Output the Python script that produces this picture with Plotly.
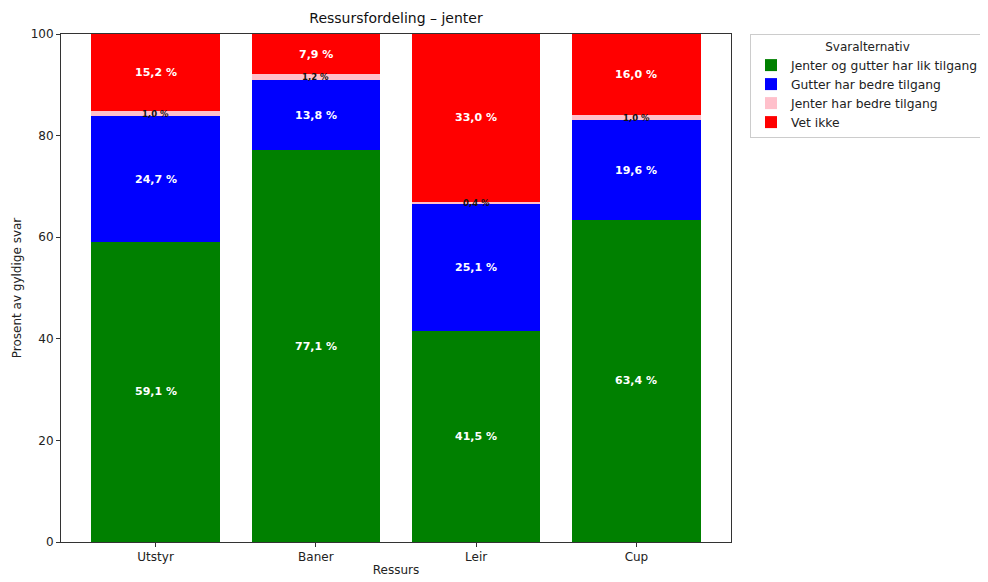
import plotly.graph_objects as go

categories = ["Utstyr", "Baner", "Leir", "Cup"]
series_names = ["Jenter og gutter har lik tilgang", "Gutter har bedre tilgang",
                "Jenter har bedre tilgang", "Vet ikke"]
lik = [59.1, 77.1, 41.5, 63.4]
gutter = [24.7, 13.8, 25.1, 19.6]
jenter = [1.0, 1.2, 0.4, 1.0]
vet_ikke = [15.2, 7.9, 33.0, 16.0]
colors = ["green", "blue", "pink", "red"]
y_ticks = [0, 20, 40, 60, 80, 100]

series = [lik, gutter, jenter, vet_ikke]
font = "DejaVu Sans"

# page body has an 8px margin; compensate so the plot lands where the reference has it
OFF = 8
L, R, T, B = 61 - OFF, 731 - OFF, 34 - OFF, 542 - OFF
W, H = 988, 582

fig = go.Figure()
for name, vals, col in zip(series_names, series, colors):
    fig.add_trace(go.Bar(x=categories, y=vals, name=name, marker_color=col,
                         marker_line_width=0, width=0.8, hoverinfo="skip"))

annotations = []
for i, cat in enumerate(categories):
    base = 0.0
    for vals, col in zip(series, colors):
        v = vals[i]
        mid = base + v / 2
        small = v < 3
        annotations.append(dict(
            x=cat, y=mid, xref="x", yref="y", showarrow=False,
            text=f"{v:.1f} %".replace(".", ","),
            font=dict(family=font, size=8.5 if small else 11,
                      color="#111" if small else "white",
                      weight="bold"),
        ))
        base += v

fig.update_layout(
    barmode="stack",
    width=W, height=H,
    margin=dict(l=L, r=W - R, t=T, b=H - B, autoexpand=False),
    paper_bgcolor="white", plot_bgcolor="white",
    font=dict(family=font, size=12, color="#222"),
    title=dict(text="Ressursfordeling – jenter", x=(L + R) / 2 / W, xanchor="center",
               y=1 - (18 - OFF) / H, yanchor="middle", font=dict(size=14, color="#111")),
    xaxis=dict(range=[-0.59, 3.59], showline=True, linecolor="#333", mirror=True,
               ticks="outside", ticklen=4, tickcolor="#333", showgrid=False,
               automargin=False,
               title=dict(text="Ressurs", font=dict(size=12), standoff=2),
               tickfont=dict(size=12)),
    yaxis=dict(range=[0, 100], tickvals=y_ticks, showline=True, linecolor="#333", mirror=True,
               ticks="outside", ticklen=4, tickcolor="#333", showgrid=False, zeroline=False,
               automargin=False,
               title=dict(text="Prosent av gyldige svar", font=dict(size=12), standoff=6),
               tickfont=dict(size=12)),
    legend=dict(x=(750 - OFF - L) / (R - L), y=1.0, xanchor="left", yanchor="top",
                bordercolor="#ccc", borderwidth=1, traceorder="normal",
                tracegroupgap=0,
                title=dict(text="Svaralternativ", side="top center", font=dict(size=12)),
                font=dict(size=12.3), itemsizing="constant"),
    annotations=annotations,
)

fig.write_html("out.html")
